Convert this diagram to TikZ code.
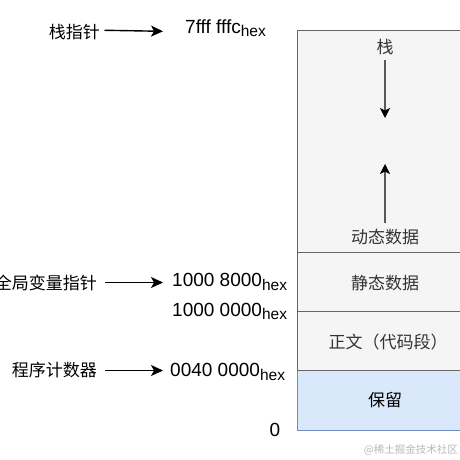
\documentclass[tikz,border=0pt]{standalone}
\usepackage{fontspec}
\setmainfont{Liberation Sans}
\newfontfamily\cjk{Noto Sans CJK SC}
\usetikzlibrary{arrows.meta}
\definecolor{Fill}{HTML}{F5F5F5}
\definecolor{Edge}{HTML}{666666}
\definecolor{BlueFill}{HTML}{DAE8FC}
\definecolor{BlueEdge}{HTML}{6C8EBF}
\definecolor{Label}{HTML}{333333}
\definecolor{Mark}{HTML}{B8B8B8}
\newcommand{\addr}[1]{#1\raisebox{-3.5pt}{\fontsize{15.5}{16}\selectfont hex}}

\tikzset{
  seg/.style={draw=Edge, fill=Fill, line width=1pt, minimum width=180pt, anchor=north west, inner sep=0pt},
  cn/.style={font=\cjk\fontsize{17}{20}\selectfont, inner sep=0pt},
  num/.style={font=\fontsize{19}{21}\selectfont, inner sep=0pt, anchor=base west},
  ptr/.style={-{Stealth[length=12pt, width=11pt, inset=3pt]}, line width=1.4pt},
  growarrow/.style={-{Stealth[length=10pt, width=10pt, inset=2.5pt, color=black]}, draw=black!65, line width=1.1pt}
}

\begin{document}
\begin{tikzpicture}[x=1pt, y=-1pt]

		\useasboundingbox (0,0) rectangle (460,460);

		% Rectangle
		\node[seg, draw=BlueEdge, fill=BlueFill, minimum height=60pt] (rsv) at (296.5,370) {};
		\node[seg, minimum height=59pt] (txt) at (296.5,311) {};
		\node[seg, minimum height=59pt] (sta) at (296.5,252) {};
		\node[seg, minimum height=222pt] (stack) at (296.5,30) {};

		% Text in the box
		\node[cn, color=Label] (stk) at (385,46.7) {栈};
		\node[cn, color=Label] (heap) at (385,237) {动态数据};
		\node[cn, color=Label] (stalbl) at (385,283) {静态数据};
		\node[cn, color=Label] (txtlbl) at (388,341.7) {正文（代码段）};
		\node[cn] (rsvlbl) at (385,400) {保留};

		\coordinate (stkend) at (385,118);
		\coordinate (heapend) at (385,164);
		\draw[growarrow, shorten <=5pt] (stk.south) -- (stkend);
		\draw[growarrow, shorten <=5.5pt] (heap.north) -- (heapend);

		% Pointers
		\node[cn, anchor=east] (sp) at (100,31.7) {栈指针};
		\node[cn, anchor=east] (gp) at (97,282.5) {全局变量指针};
		\node[cn, anchor=east] (pc) at (97,370.5) {程序计数器};

		% Addresses
		\node[num] (spaddr) at (185,33.5) {\addr{7fff fffc}};
		\node[num] (gpaddr) at (172,286.7) {\addr{1000 8000}};
		\node[num] (txtaddr) at (172,316) {\addr{1000 0000}};
		\node[num] (pcaddr) at (170,376.7) {\addr{0040 0000}};
		\node[num] (zero) at (269.3,436.7) {0};

		% Lines
		\draw[ptr, shorten <=4.5pt, shorten >=22pt] (sp.east) ++(0,-1.5) -- (sp.east -| spaddr.west);
		\draw[ptr, shorten <=8pt, shorten >=9pt] (gp.east) -- (gp.east -| gpaddr.west);
		\draw[ptr, shorten <=8pt, shorten >=7pt] (pc.east) -- (pc.east -| pcaddr.west);

		% Watermark
		\node[cn, font=\cjk\fontsize{10.5}{12}\selectfont, color=Mark, anchor=east] (mark) at (458,450) {@稀土掘金技术社区};

	\end{tikzpicture}
\end{document}
